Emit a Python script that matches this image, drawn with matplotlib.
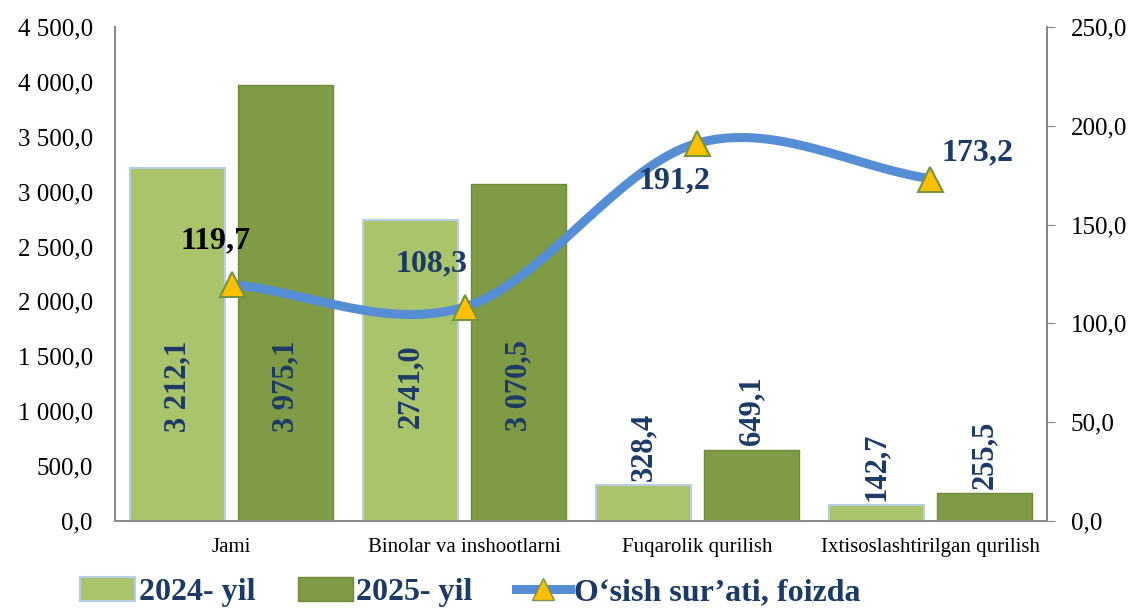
import numpy as np
import matplotlib.pyplot as plt
from matplotlib.lines import Line2D
from matplotlib.patches import Patch

categories = ["Jami", "Binolar va inshootlarni", "Fuqarolik qurilish",
              "Ixtisoslashtirilgan qurilish"]
vals_2024 = [3212.1, 2741.0, 328.4, 142.7]
vals_2025 = [3975.1, 3070.5, 649.1, 255.5]
growth = [119.7, 108.3, 191.2, 173.2]
labels_2024 = ["3 212,1", "2741,0", "328,4", "142,7"]
labels_2025 = ["3 975,1", "3 070,5", "649,1", "255,5"]
growth_labels = ["119,7", "108,3", "191,2", "173,2"]
left_ticks = np.arange(0, 4501, 500)
right_ticks = np.arange(0, 251, 50)

NAVY = "#1B3A66"
C24 = "#A9C46A"
C25 = "#7F9B45"
LINE = "#558ED5"

plt.rcParams['font.family'] = ['Liberation Serif', 'DejaVu Serif']


def fmt(v):
    s = "{:,.1f}".format(v).replace(",", " ").replace(".", ",")
    return s


def smooth(x, y, n=40):
    # Catmull-Rom style curve to mimic the smoothed line
    x = np.asarray(x, float)
    y = np.asarray(y, float)
    px = np.concatenate([[2 * x[0] - x[1]], x, [2 * x[-1] - x[-2]]])
    py = np.concatenate([[2 * y[0] - y[1]], y, [2 * y[-1] - y[-2]]])
    xs, ys = [], []
    for i in range(1, len(px) - 2):
        t = np.linspace(0, 1, n)
        for arr, out in ((px, xs), (py, ys)):
            p0, p1, p2, p3 = arr[i - 1], arr[i], arr[i + 1], arr[i + 2]
            out.extend(0.5 * ((2 * p1) + (-p0 + p2) * t
                              + (2 * p0 - 5 * p1 + 4 * p2 - p3) * t ** 2
                              + (-p0 + 3 * p1 - 3 * p2 + p3) * t ** 3))
    return np.array(xs), np.array(ys)


fig = plt.figure(figsize=(11.31, 6.08), dpi=100)
ax = fig.add_axes([0.1017, 0.1431, 0.8240, 0.8125])
ax2 = ax.twinx()

x = np.arange(len(categories))
off = 0.232
w = 0.41
ax.bar(x - off, vals_2024, w, color=C24, edgecolor="#B9CDE5", linewidth=1.5, zorder=2)
ax.bar(x + off, vals_2025, w, color=C25, edgecolor="#6E8A3A", linewidth=1.0, zorder=2)

ax.set_xlim(-0.5, 3.5)
ax.set_ylim(0, 4500)
ax.set_yticks(left_ticks)
ax.set_yticklabels([fmt(v) for v in left_ticks], fontsize=18)
ax.set_xticks(x)
ax.set_xticklabels(categories, fontsize=15)
ax.tick_params(axis='x', length=0, pad=12)
ax.tick_params(axis='y', length=0, pad=16)

ax2.set_ylim(0, 250)
ax2.set_yticks(right_ticks)
ax2.set_yticklabels([fmt(v) for v in right_ticks], fontsize=18)
ax2.tick_params(axis='y', length=6, color="#888888", pad=11)

for a in (ax, ax2):
    a.spines['top'].set_visible(False)
    for s in ('left', 'right', 'bottom'):
        a.spines[s].set_color("#888888")
        a.spines[s].set_linewidth(1.3)

# bar value labels
for i in range(len(categories)):
    for xv, v, lab in ((x[i] - off, vals_2024[i], labels_2024[i]),
                       (x[i] + off, vals_2025[i], labels_2025[i])):
        if v > 1500:
            ax.text(xv, 1230, lab, rotation=90, ha='center', va='center',
                    fontsize=22, fontweight='bold', color=NAVY, zorder=5)
        else:
            ax.text(xv, v + 40, lab, rotation=90, ha='center', va='bottom',
                    fontsize=22, fontweight='bold', color=NAVY, zorder=5)

# growth line
sx, sy = smooth(x, growth)
ax2.plot(sx, sy, color=LINE, linewidth=6.5, solid_capstyle='round', zorder=3)
ax2.plot(x, growth, linestyle='none', marker='^', markersize=18,
         markerfacecolor="#FFC000", markeredgecolor="#77933C",
         markeredgewidth=1.5, zorder=4)

g_off = [(-0.07, 22, 'black'), (-0.14, 22, NAVY), (-0.1, -19, NAVY), (0.2, 13, NAVY)]
for i, (dx, dy, c) in enumerate(g_off):
    ax2.text(x[i] + dx, growth[i] + dy, growth_labels[i], ha='center', va='center',
             fontsize=23, fontweight='bold', color=c, zorder=5)

handles = [
    Patch(facecolor=C24, edgecolor="#B9CDE5", linewidth=1.5),
    Patch(facecolor=C25, edgecolor="#6E8A3A"),
    Line2D([0], [0], color=LINE, linewidth=6.5, marker='^', markersize=16,
           markerfacecolor="#FFC000", markeredgecolor="#77933C"),
]
fig.legend(handles, ["2024- yil", "2025- yil", "O\u2018sish sur\u2019ati, foizda"],
           loc='center', bbox_to_anchor=(0.416, 0.026), ncol=3, frameon=False,
           prop={'size': 23, 'weight': 'bold'}, labelcolor=NAVY,
           handlelength=1.7, handleheight=0.75, handletextpad=0.12,
           columnspacing=1.35)

fig.savefig("out.png", dpi=100)
